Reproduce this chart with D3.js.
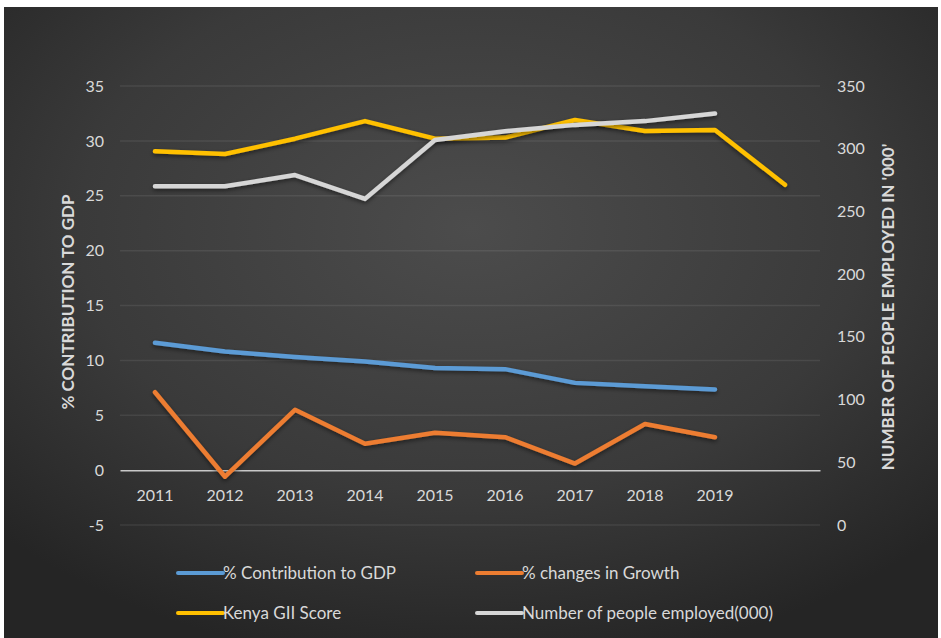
<!DOCTYPE html>
<html>
<head>
<meta charset="utf-8">
<script src="https://cdn.jsdelivr.net/npm/d3@7"></script>
<style>
  html, body { margin: 0; padding: 0; background: #ffffff; }
  svg { display: block; }
  text { font-family: Lato, "Open Sans", sans-serif; fill: #d9d9d9; }
</style>
</head>
<body>
<div class="container"></div>
<script>
const WIDTH = 941;
const HEIGHT = 638;

// chart data
var years = ['2011', '2012', '2013', '2014', '2015', '2016', '2017', '2018', '2019', ''];
var gdpShare = [11.6, 10.8, 10.3, 9.9, 9.3, 9.2, 7.95, 7.65, 7.35, null];
var growthChange = [7.1, -0.6, 5.5, 2.4, 3.4, 3.0, 0.6, 4.2, 3.0, null];
var giiScore = [29.05, 28.8, 30.2, 31.8, 30.2, 30.3, 31.9, 30.9, 31.0, 26.0];
var employed = [270, 270, 279, 260, 307, 314, 319, 322, 328, null];
var leftTicks = [-5, 0, 5, 10, 15, 20, 25, 30, 35];
var rightTicks = [0, 50, 100, 150, 200, 250, 300, 350];

var series = [
    {name: '% Contribution to GDP', values: gdpShare, axis: 'left', color: '#5b9bd5'},
    {name: '% changes in Growth', values: growthChange, axis: 'left', color: '#ed7d31'},
    {name: 'Kenya GII Score', values: giiScore, axis: 'left', color: '#ffc000'},
    {name: 'Number of people employed(000)', values: employed, axis: 'right', color: '#d6d6d6'}
];

var x = d3.scaleBand().domain(years).range([120, 820]);
var yLeft = d3.scaleLinear().domain([-5, 35]).range([525, 86]);
var yRight = d3.scaleLinear().domain([0, 350]).range([525, 86]);

var cx = function (i) {
    return x(years[i]) + x.bandwidth() / 2;
};

var styleTicks = function (g) {
    g.select('.domain').remove();
    g.selectAll('text')
        .attr('font-size', 16)
        .attr('fill', '#d0d0d0')
        .attr('font-family', 'Lato');
};

var svg = d3.select('.container').append('svg')
    .attr('width', WIDTH)
    .attr('height', HEIGHT);

var defs = svg.append('defs');
var grad = defs.append('radialGradient')
    .attr('id', 'bg')
    .attr('cx', '50%').attr('cy', '35%').attr('r', '70%');
grad.append('stop').attr('offset', '0%').attr('stop-color', '#4c4c4c');
grad.append('stop').attr('offset', '60%').attr('stop-color', '#3a3a3a');
grad.append('stop').attr('offset', '100%').attr('stop-color', '#252525');

var shadow = defs.append('filter').attr('id', 'shadow')
    .attr('x', '-5%').attr('y', '-20%').attr('width', '110%').attr('height', '140%');
shadow.append('feDropShadow')
    .attr('dx', 0).attr('dy', 2).attr('stdDeviation', 2)
    .attr('flood-color', '#000').attr('flood-opacity', 0.5);

svg.append('rect')
    .attr('x', 4).attr('y', 7)
    .attr('width', WIDTH - 7).attr('height', HEIGHT - 7)
    .attr('fill', 'url(#bg)');

// gridlines
svg.append('g')
    .selectAll('line')
    .data(leftTicks.filter(function (d) { return d !== 0; }))
    .enter().append('line')
    .attr('x1', 120).attr('x2', 820)
    .attr('y1', function (d) { return yLeft(d); })
    .attr('y2', function (d) { return yLeft(d); })
    .attr('stroke', '#ffffff')
    .attr('stroke-opacity', 0.08)
    .attr('stroke-width', 1.5);

// left axis
svg.append('g')
    .attr('transform', 'translate(104,0)')
    .call(d3.axisLeft(yLeft).tickValues(leftTicks).tickFormat(String).tickSize(0).tickPadding(0))
    .call(styleTicks);

// right axis
svg.append('g')
    .attr('transform', 'translate(837,0)')
    .call(d3.axisRight(yRight).tickValues(rightTicks).tickFormat(String).tickSize(0).tickPadding(0))
    .call(styleTicks);

// category axis at zero
var bottomAxis = svg.append('g')
    .attr('transform', 'translate(0,' + yLeft(0) + ')')
    .call(d3.axisBottom(x).tickSize(0).tickPadding(20));
bottomAxis.selectAll('text')
    .attr('font-size', 16)
    .attr('fill', '#d0d0d0')
    .attr('font-family', 'Lato');
bottomAxis.select('.domain')
    .attr('stroke', '#c8c8c8')
    .attr('stroke-width', 1.5);

// axis titles
svg.append('text')
    .attr('transform', 'translate(74,302) rotate(-90)')
    .attr('text-anchor', 'middle')
    .attr('font-size', 17)
    .attr('font-weight', 'bold')
    .attr('fill', '#d6d6d6')
    .text('% CONTRIBUTION TO GDP');

svg.append('text')
    .attr('transform', 'translate(894,307) rotate(-90)')
    .attr('text-anchor', 'middle')
    .attr('font-size', 17)
    .attr('font-weight', 'bold')
    .attr('fill', '#d6d6d6')
    .text("NUMBER OF PEOPLE EMPLOYED IN '000'");

// lines
series.forEach(function (s) {
    var yScale = s.axis === 'left' ? yLeft : yRight;
    var line = d3.line()
        .defined(function (d) { return d != null; })
        .x(function (d, i) { return cx(i); })
        .y(function (d) { return yScale(d); });
    svg.append('path')
        .datum(s.values)
        .attr('d', line)
        .attr('fill', 'none')
        .attr('stroke', s.color)
        .attr('stroke-width', 4.5)
        .attr('stroke-linejoin', 'round')
        .attr('stroke-linecap', 'round')
        .attr('filter', 'url(#shadow)');
});

// legend
var legendPos = [[178, 573], [477, 573], [178, 613], [477, 613]];
var legend = svg.append('g')
    .selectAll('g')
    .data(series)
    .enter().append('g')
    .attr('transform', function (d, i) {
        return 'translate(' + legendPos[i][0] + ',' + legendPos[i][1] + ')';
    });
legend.append('line')
    .attr('x1', 0).attr('x2', 45)
    .attr('stroke', function (d) { return d.color; })
    .attr('stroke-width', 4)
    .attr('stroke-linecap', 'round');
legend.append('text')
    .attr('x', 45)
    .attr('dy', '0.35em')
    .attr('font-size', 17)
    .attr('fill', '#d0d0d0')
    .text(function (d) { return d.name; });
</script>
</body>
</html>
